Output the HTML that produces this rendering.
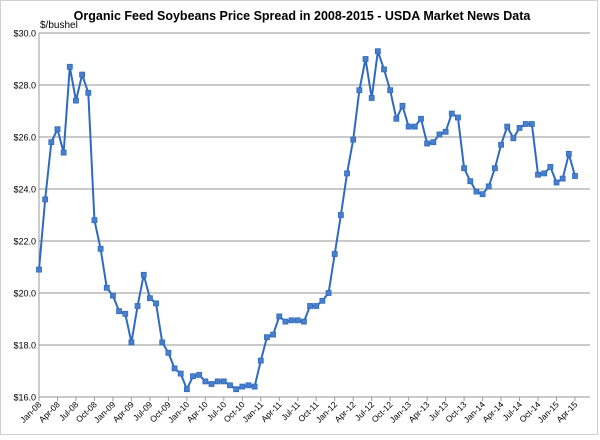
<!DOCTYPE html>
<html><head><meta charset="utf-8"><style>
body{margin:0;background:#fff;font-family:"Liberation Sans",sans-serif}
</style></head><body>
<svg width="600" height="435" xmlns="http://www.w3.org/2000/svg" font-family="Liberation Sans, sans-serif">
<rect x="0.5" y="0.5" width="597" height="434" fill="#fff" stroke="#d0d0d0"/>
<text x="302" y="20" text-anchor="middle" font-size="12.5" font-weight="bold">Organic Feed Soybeans Price Spread in 2008-2015 - USDA Market News Data</text>
<text x="40" y="28" font-size="10">$/bushel</text>
<g id="grid"></g><g id="axes"></g><g id="series"></g>
</svg>
<script>
const months=["Jan","Feb","Mar","Apr","May","Jun","Jul","Aug","Sep","Oct","Nov","Dec"];
const yTicks=[16,18,20,22,24,26,28,30];
const prices=[20.9,23.6,25.8,26.3,25.4,28.7,27.4,28.4,27.7,22.8,21.7,20.2,
19.9,19.3,19.2,18.1,19.5,20.7,19.8,19.6,18.1,17.7,17.1,16.9,
16.3,16.8,16.85,16.6,16.5,16.6,16.6,16.45,16.3,16.4,16.45,16.4,
17.4,18.3,18.4,19.1,18.9,18.95,18.95,18.9,19.5,19.5,19.7,20.0,
21.5,23.0,24.6,25.9,27.8,29.0,27.5,29.3,28.6,27.8,26.7,27.2,
26.4,26.4,26.7,25.75,25.8,26.1,26.2,26.9,26.75,24.8,24.3,23.9,
23.8,24.1,24.8,25.7,26.4,25.95,26.35,26.5,26.5,24.55,24.6,24.85,
24.25,24.4,25.35,24.5];
const startYear=8;
const X0=39,X1=575,Y0=397,Y1=33,yMin=16,yMax=30;
const N=prices.length;
const x=i=>X0+(X1-X0)*i/(N-1);
const y=v=>Y0-(v-yMin)/(yMax-yMin)*(Y0-Y1);
const NS="http://www.w3.org/2000/svg";
function mk(t,a,p){const e=document.createElementNS(NS,t);for(const k in a)e.setAttribute(k,a[k]);p.appendChild(e);return e;}
const grid=document.getElementById('grid'),axes=document.getElementById('axes'),ser=document.getElementById('series');
yTicks.forEach(v=>{
 const l=mk('line',{x1:X0,x2:590,y1:y(v),y2:y(v),stroke:'#b8b8b8','stroke-width':1.5},grid);
 
 
 const t=mk('text',{x:X0-3,y:y(v)+3.5,'text-anchor':'end','font-size':9},axes);
 
 
 t.textContent='$'+v.toFixed(1);
});
const ax=mk('line',{x1:X0,x2:X0,y1:Y1,y2:Y0,stroke:'#999'},axes);


for(let i=0;i<N;i+=3){
 const lab=months[i%12]+'-'+String(startYear+Math.floor(i/12)).padStart(2,'0');
 const tk=mk('line',{x1:x(i),x2:x(i),y1:Y0,y2:Y0+4,stroke:'#999'},axes);
 
 
 const t=mk('text',{x:x(i)+3,y:Y0+8,'text-anchor':'end','font-size':8.5,transform:`rotate(-45 ${x(i)+3} ${Y0+8})`},axes);
 
 
 t.textContent=lab;
}
const pl=mk('polyline',{points:prices.map((v,i)=>x(i)+','+y(v)).join(' '),fill:'none',stroke:'#2e6bc0','stroke-width':2},ser);


prices.forEach((v,i)=>{
 const r=mk('rect',{x:x(i)-2.5,y:y(v)-2.5,width:5,height:5,fill:'#4a7fcc',stroke:'#2e6bc0','stroke-width':0.8},ser);
 
 
});
</script>
</body></html>
